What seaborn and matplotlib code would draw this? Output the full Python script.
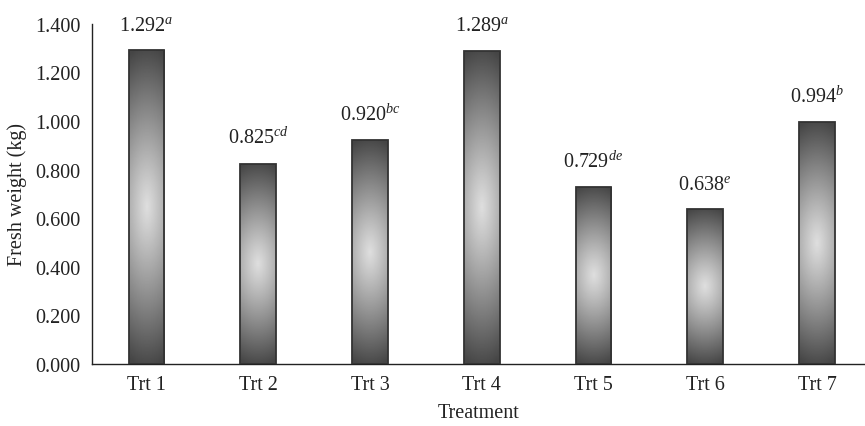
import numpy as np
import pandas as pd
import matplotlib
matplotlib.use("Agg")
import matplotlib.pyplot as plt
import seaborn as sns

categories = ["Trt 1", "Trt 2", "Trt 3", "Trt 4", "Trt 5", "Trt 6", "Trt 7"]
values = [1.292, 0.825, 0.920, 1.289, 0.729, 0.638, 0.994]
letters = ["a", "cd", "bc", "a", "de", "e", "b"]
yticks = [0.0, 0.2, 0.4, 0.6, 0.8, 1.0, 1.2, 1.4]

sns.set_theme(style="white")
plt.rcParams["font.family"] = ["Liberation Serif", "DejaVu Serif"]
plt.rcParams["mathtext.fontset"] = "custom"
plt.rcParams["mathtext.rm"] = "Liberation Serif"
plt.rcParams["mathtext.it"] = "Liberation Serif:italic"

df = pd.DataFrame({"Treatment": categories, "Fresh": values})

fig = plt.figure(figsize=(8.65, 4.27), dpi=100)
ax = fig.add_axes([0.106, 0.145, 0.894, 0.797])

sns.barplot(data=df, x="Treatment", y="Fresh", ax=ax, width=0.32,
            color="#888888", edgecolor="#333333", linewidth=1.3, zorder=3)

# gradient fill
ny, nx = 200, 60
yy = np.linspace(-1, 1, ny)[:, None]
xx = np.linspace(-1, 1, nx)[None, :]
r = np.sqrt(yy**2 + 0.12 * xx**2)
g = 0.87 - 0.58 * np.clip(r, 0, 1.1) ** 1.1
g = np.clip(g, 0.27, 0.9)
for p in ax.patches:
    x0, y0 = p.get_x(), p.get_y()
    w, h = p.get_width(), p.get_height()
    im = ax.imshow(g, cmap="gray", vmin=0, vmax=1, extent=[x0, x0 + w, y0, y0 + h],
                   aspect="auto", origin="lower", zorder=2, interpolation="bilinear")
    im.set_clip_path(p)
    p.set_facecolor("none")

ax.set_xlim(-0.49, 6.43)
ax.set_ylim(0, 1.4)
ax.set_yticks(yticks)
ax.set_yticklabels([f"{t:.3f}" for t in yticks])

for i, (v, l) in enumerate(zip(values, letters)):
    ax.annotate(f"{v:.3f}$^{{\\mathit{{{l}}}}}$", xy=(i, v), xytext=(0, 11),
                textcoords="offset points", ha="center", va="bottom",
                fontsize=14.5, color="#222222")

sns.despine(ax=ax)
for s in ["left", "bottom"]:
    ax.spines[s].set_color("#222222")
    ax.spines[s].set_linewidth(1.0)
ax.tick_params(axis="both", length=0, labelsize=14.5, colors="#222222", pad=8)
ax.set_xlabel("Treatment", fontsize=14.5, color="#222222", labelpad=6)
ax.set_ylabel("Fresh weight (kg)", fontsize=14.5, color="#222222", labelpad=6)

fig.savefig("out.png", dpi=100)
